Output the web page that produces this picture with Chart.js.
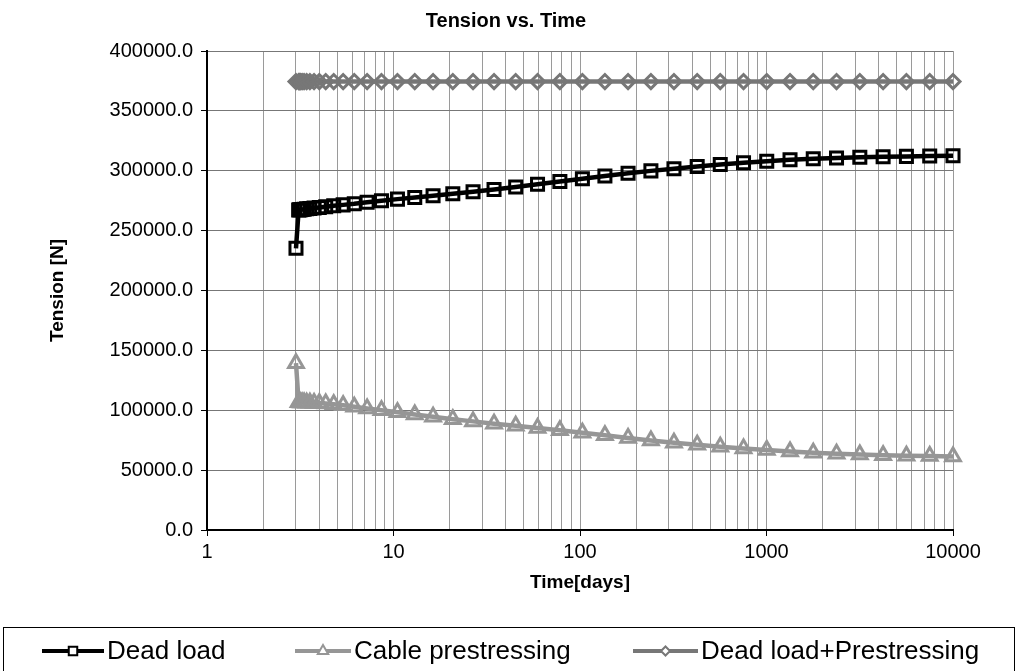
<!DOCTYPE html>
<html>
<head>
<meta charset="utf-8">
<script src="https://cdn.jsdelivr.net/npm/chart.js@4/dist/chart.umd.min.js"></script>
<style>
  html, body { margin: 0; padding: 0; background: #fff; }
  #chart { display: block; }
</style>
</head>
<body>
<canvas id="chart" width="1018" height="671"></canvas>
<script>
// time points in days (first one is the instant load at day 3)
const days = [3, 3.1, 3.133, 3.178, 3.237, 3.316, 3.422, 3.562, 3.75, 4, 4.33, 4.78, 5.37,
  6.16, 7.22, 8.62, 10.5, 13, 16.3, 20.8, 26.7, 34.6, 45.2, 59.2, 78, 103, 136, 181, 240,
  319, 425, 565, 753, 1003, 1337, 1781, 2374, 3165, 4220, 5626, 7502, 10000];

const deadLoad = [235200, 267300, 267400, 267500, 267700, 267900, 268200, 268500, 268900,
  269400, 270000, 270700, 271500, 272400, 273700, 275000, 276300, 277700, 279200, 280800,
  282500, 284400, 286500, 288700, 291000, 293300, 295700, 297900, 299900, 301700, 303500,
  305200, 306700, 308000, 309100, 310000, 310700, 311200, 311600, 312000, 312300, 312600];

const cablePrestress = [139300, 106600, 106600, 106500, 106500, 106400, 106300, 106200,
  106100, 105900, 105600, 105000, 104100, 102900, 101500, 100000, 98300, 96500, 94500,
  92500, 90700, 88800, 87000, 85200, 83300, 81300, 79100, 76900, 74800, 72900, 71200,
  69600, 68100, 66800, 65600, 64600, 63700, 63000, 62500, 62000, 61700, 61400];

const deadPlusPrestress = [374500, 374500, 374500, 374500, 374500, 374500, 374500, 374500,
  374500, 374500, 374500, 374500, 374500, 374500, 374500, 374500, 374500, 374500, 374500,
  374500, 374500, 374500, 374500, 374500, 374500, 374500, 374500, 374500, 374500, 374500,
  374500, 374500, 374500, 374500, 374500, 374500, 374500, 374500, 374500, 374500, 374500, 374500];

const seriesNames = ["Dead load", "Cable prestressing", "Dead load+Prestressing"];
const xMajorTicks = [1, 10, 100, 1000, 10000];
const yTicks = [0, 50000, 100000, 150000, 200000, 250000, 300000, 350000, 400000];

const FONT = "'Liberation Sans', Arial, sans-serif";

// turn x and y arrays into point objects
function points(ys) {
  const out = [];
  for (let i = 0; i < days.length; i++) {
    out.push({ x: days[i], y: ys[i] });
  }
  return out;
}

// all log gridlines 1..9 in each decade
const xAllTicks = [];
for (let i = 0; i < xMajorTicks.length; i++) {
  const d = xMajorTicks[i];
  if (i === xMajorTicks.length - 1) { xAllTicks.push(d); break; }
  for (let m = 1; m <= 9; m++) xAllTicks.push(d * m);
}

const colors = ["#000000", "#969696", "#777777"];
const styles = ["rect", "triangle", "rectRot"];
const radii = [8.5, 8.5, 7];

// chart title and legend box drawn on the canvas
const extras = {
  id: "extras",
  afterDraw(chart) {
    const ctx = chart.ctx;
    ctx.save();
    ctx.fillStyle = "#000";
    ctx.font = "bold 20px " + FONT;
    ctx.textAlign = "center";
    ctx.textBaseline = "middle";
    ctx.fillText("Tension vs. Time", 506, 21);

    // legend frame
    ctx.strokeStyle = "#000";
    ctx.lineWidth = 1;
    ctx.strokeRect(3.5, 627.5, 1011, 50);

    const items = [
      { x1: 42, x2: 104, tx: 107 },
      { x1: 295, x2: 351, tx: 354 },
      { x1: 633, x2: 698, tx: 701 }
    ];
    const y = 651;
    ctx.font = "26px " + FONT;
    ctx.textAlign = "left";
    for (let i = 0; i < items.length; i++) {
      const it = items[i];
      ctx.strokeStyle = colors[i];
      ctx.lineWidth = 4;
      ctx.beginPath();
      ctx.moveTo(it.x1, y);
      ctx.lineTo(it.x2, y);
      ctx.stroke();
      ctx.fillStyle = "#fff";
      ctx.lineWidth = 2;
      Chart.helpers.drawPoint(ctx, {
        pointStyle: styles[i], radius: radii[i] - 2.5, borderWidth: 2, rotation: 0
      }, (it.x1 + it.x2) / 2, y);
      ctx.fillStyle = "#000";
      ctx.fillText(seriesNames[i], it.tx, y + 1);
    }
    ctx.restore();
  }
};

const datasets = [deadLoad, cablePrestress, deadPlusPrestress].map(function (ys, i) {
  return {
    label: seriesNames[i],
    data: points(ys),
    borderColor: colors[i],
    backgroundColor: "rgba(0,0,0,0)",
    borderWidth: 4.5,
    pointStyle: styles[i],
    pointRadius: radii[i],
    pointBorderWidth: 3,
    pointBorderColor: colors[i],
    pointBackgroundColor: "rgba(0,0,0,0)",
    fill: false,
    tension: 0
  };
});

new Chart(document.getElementById("chart"), {
  type: "line",
  data: { datasets: datasets },
  plugins: [extras],
  options: {
    responsive: false,
    animation: false,
    clip: false,
    layout: { padding: { top: 51, right: 65, bottom: 71, left: 0 } },
    plugins: {
      legend: { display: false },
      title: { display: false },
      tooltip: { enabled: false }
    },
    scales: {
      x: {
        type: "logarithmic",
        min: 1,
        max: 10000,
        afterBuildTicks(scale) {
          scale.ticks = xAllTicks.map(function (v) { return { value: v }; });
        },
        afterFit(scale) { scale.height = 70; },
        ticks: {
          autoSkip: false,
          maxRotation: 0,
          padding: 4,
          color: "#000",
          font: { family: FONT, size: 20 },
          callback: function (v) {
            return xMajorTicks.indexOf(v) >= 0 ? String(v) : "";
          }
        },
        grid: {
          color: "#9a9a9a",
          lineWidth: 1,
          tickLength: 6,
          tickColor: function (c) {
            return xMajorTicks.indexOf(c.tick.value) >= 0 ? "#000" : "rgba(0,0,0,0)";
          }
        },
        border: { color: "#000", width: 2 },
        title: {
          display: true,
          text: "Time[days]",
          color: "#000",
          font: { family: FONT, size: 19, weight: "bold" },
          padding: { top: 0, bottom: 6 }
        }
      },
      y: {
        min: 0,
        max: 400000,
        afterBuildTicks(scale) {
          scale.ticks = yTicks.map(function (v) { return { value: v }; });
        },
        afterFit(scale) { scale.width = 207; },
        ticks: {
          padding: 8,
          color: "#000",
          font: { family: FONT, size: 20 },
          callback: function (v) { return Number(v).toFixed(1); }
        },
        grid: {
          color: "#777",
          lineWidth: 1,
          tickLength: 6,
          tickColor: "#000"
        },
        border: { color: "#000", width: 2 },
        title: {
          display: true,
          text: "Tension [N]",
          color: "#000",
          font: { family: FONT, size: 19, weight: "bold" },
          padding: { top: 46, bottom: 0 }
        }
      }
    }
  }
});
</script>
</body>
</html>
